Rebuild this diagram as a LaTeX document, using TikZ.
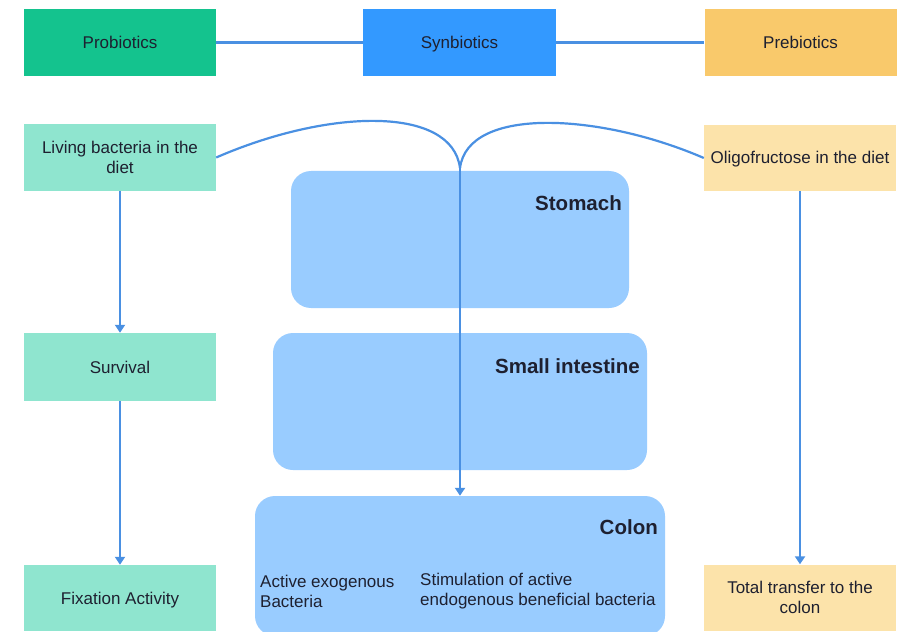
\documentclass[tikz,border=0pt]{standalone}
\usepackage{fontspec}
\setmainfont{Liberation Sans}
\usetikzlibrary{arrows.meta}
\definecolor{probc}{HTML}{14C38E}
\definecolor{sync}{HTML}{3399FF}
\definecolor{prec}{HTML}{F9C96B}
\definecolor{lightgreen}{HTML}{8FE5CF}
\definecolor{lightorange}{HTML}{FCE3AA}
\definecolor{organc}{HTML}{99CCFF}
\definecolor{linec}{HTML}{4A90E2}
\definecolor{txtc}{HTML}{1E2030}
\tikzset{
  box/.style={draw=none, minimum width=192pt, minimum height=67pt, inner sep=0pt,
    align=center, font=\fontsize{17}{20}\selectfont, text=txtc},
  oneline/.style={text height=12pt, text depth=0pt},
  organ/.style={draw=none, fill=organc, rounded corners=20pt, inner sep=0pt},
  organlabel/.style={font=\bfseries\fontsize{20.5}{24}\selectfont, text=txtc, anchor=east, inner sep=0pt},
  colontext/.style={font=\fontsize{17}{20}\selectfont, text=txtc, align=left, anchor=west, inner sep=0pt},
  conn/.style={draw=linec, line width=2.2pt},
  arr/.style={conn, -{Triangle[width=10pt,length=8pt]}},
}
\begin{document}
\begin{tikzpicture}[x=1pt,y=-1pt]
\useasboundingbox (0,0) rectangle (901,631);
\fill[white] (0,0) rectangle (901,631);
% organs
\node[organ, minimum width=338pt, minimum height=137pt] (stomach) at (460,239.5) {};
\node[organ, minimum width=374pt, minimum height=137pt] (small) at (460,401.5) {};
\node[organ, minimum width=410pt, minimum height=140pt] (colon) at (460,566) {};
\node[organlabel] (stomachlbl) at (622,203) {Stomach};
\node[organlabel] (smalllbl) at (640,366) {Small intestine};
\node[organlabel] (colonlbl) at (658,527) {Colon};
\node[colontext] (exo) at (260,591) {Active exogenous\\Bacteria};
\node[colontext] (endo) at (420,591) {Stimulation of active\\endogenous beneficial bacteria};
% top row
\node[box, oneline, fill=probc] (pro) at (120,42.5) {Probiotics};
\node[box, oneline, fill=sync, minimum width=193pt] (syn) at (459.5,42.5) {Synbiotics};
\node[box, oneline, fill=prec] (pre) at (800.5,42.5) {Prebiotics};
% second row
\node[box, fill=lightgreen, minimum height=66pt] (living) at (120,157.5) {Living bacteria in the\\diet};
\node[box, oneline, fill=lightorange, minimum height=66pt] (oligo) at (800,158) {Oligofructose in the diet};
% left column
\node[box, oneline, fill=lightgreen, minimum height=68pt] (survival) at (120,367) {Survival};
\node[box, oneline, fill=lightgreen, minimum height=66pt] (fix) at (120,598) {Fixation Activity};
% right column
\node[box, fill=lightorange, minimum height=66pt] (total) at (800,597.5) {Total transfer to the\\colon};
% connectors
\draw[conn] (pro.east) -- (syn.west);
\draw[conn] (syn.east) -- (pre.west);
\coordinate (join) at (460,168);
\draw[conn] (living.east) .. controls (330,108) and (452,106) .. (join);
\draw[conn] (oligo.west) .. controls (600,113) and (468,106) .. (join);
\draw[arr] (join) -- (colon.north);
\draw[arr] (living.south) -- (survival.north);
\draw[arr] (survival.south) -- (fix.north);
\draw[arr] (oligo.south) -- (total.north);
\end{tikzpicture}
\end{document}
